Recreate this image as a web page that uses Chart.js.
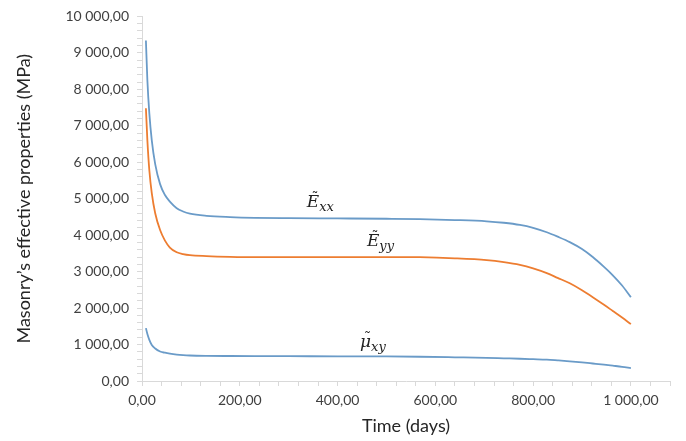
<!DOCTYPE html>
<html>
<head>
<meta charset="utf-8">
<script src="https://cdn.jsdelivr.net/npm/chart.js@4.4.1/dist/chart.umd.min.js"></script>
<style>
  html, body { margin: 0; padding: 0; background: #fff; }
  #wrap { width: 686px; height: 441px; }
</style>
</head>
<body>
<div id="wrap"><canvas id="chart" width="686" height="441"></canvas></div>
<script>
// Time (days)
const days = [8, 11, 15, 20, 27, 37, 47, 57, 71, 84, 98, 132, 180, 231, 300, 400, 500, 568, 640, 705, 740, 773, 800, 828, 850, 875, 900, 922, 945, 963, 982, 1000];

// Effective properties (MPa)
const exx = [9340, 8250, 7340, 6600, 5950, 5400, 5100, 4920, 4740, 4650, 4590, 4530, 4495, 4475, 4465, 4458, 4450, 4440, 4415, 4380, 4340, 4280, 4200, 4080, 3960, 3810, 3620, 3400, 3130, 2900, 2620, 2300];
const eyy = [7480, 6600, 5780, 5150, 4600, 4140, 3850, 3660, 3530, 3480, 3450, 3425, 3405, 3395, 3395, 3400, 3400, 3395, 3365, 3315, 3260, 3185, 3090, 2960, 2830, 2680, 2490, 2300, 2090, 1920, 1740, 1560];
const mxy = [1450, 1290, 1130, 990, 890, 810, 775, 750, 725, 710, 700, 690, 685, 682, 680, 678, 674, 665, 650, 635, 622, 610, 598, 585, 565, 540, 510, 480, 448, 420, 390, 356];

const xTicks = [0, 200, 400, 600, 800, 1000];
const yTicks = [0, 1000, 2000, 3000, 4000, 5000, 6000, 7000, 8000, 9000, 10000];

const BLUE = '#6a9bc8';
const ORANGE = '#ed7d31';
const FONT = 'Lato, "Open Sans", sans-serif';

// "10 000,00" style
function fmt(v) {
    const s = Math.round(v).toString().replace(/\B(?=(\d{3})+(?!\d))/g, ' ');
    return s + ',00';
}

function pts(ys) {
    return days.map(function(d, i) { return { x: d, y: ys[i] }; });
}

// curve labels drawn as math text: tilde over symbol, italic subscript
const curveLabels = [
    { sym: 'E', sub: 'xx', x: 337, y: 4770 },
    { sym: 'E', sub: 'yy', x: 460, y: 3700 },
    { sym: 'μ', sub: 'xy', x: 446, y: 930 }
];

const mathLabels = {
    id: 'mathLabels',
    afterDatasetsDraw(chart) {
        const ctx = chart.ctx;
        const xs = chart.scales.x, ys = chart.scales.y;
        ctx.save();
        ctx.fillStyle = '#222';
        ctx.textBaseline = 'alphabetic';
        curveLabels.forEach(function(l) {
            const px = xs.getPixelForValue(l.x);
            const py = ys.getPixelForValue(l.y);
            ctx.font = 'italic 17px "DejaVu Serif", serif';
            const w = ctx.measureText(l.sym).width;
            ctx.fillText(l.sym, px, py);
            // tilde above the symbol
            ctx.font = '14px "DejaVu Serif", serif';
            ctx.textAlign = 'center';
            ctx.fillText('\u02DC', px + w / 2 + 2, py - 4);
            ctx.textAlign = 'left';
            ctx.font = 'italic 13px "DejaVu Serif", serif';
            ctx.fillText(l.sub, px + w, py + 4);
        });
        ctx.restore();
    }
};

new Chart(document.getElementById('chart'), {
    type: 'line',
    data: {
        datasets: [
            { label: 'Exx', data: pts(exx), borderColor: BLUE },
            { label: 'Eyy', data: pts(eyy), borderColor: ORANGE },
            { label: 'mxy', data: pts(mxy), borderColor: BLUE }
        ]
    },
    options: {
        responsive: false,
        animation: false,
        layout: { padding: { top: 8, right: 16, left: 9, bottom: 0 } },
        elements: {
            point: { radius: 0 },
            line: { borderWidth: 1.8, cubicInterpolationMode: 'monotone', fill: false }
        },
        plugins: {
            legend: { display: false },
            tooltip: { enabled: false }
        },
        scales: {
            x: {
                type: 'linear',
                min: 0,
                max: 1080,
                border: { color: '#d9d9d9', width: 1 },
                grid: { drawOnChartArea: false, color: '#d9d9d9', tickLength: 5 },
                ticks: {
                    stepSize: 40,
                    autoSkip: false,
                    maxRotation: 0,
                    color: '#404040',
                    font: { family: FONT, size: 14 },
                    padding: 6,
                    callback: function(v) { return xTicks.includes(v) ? fmt(v) : ''; }
                },
                title: {
                    display: true,
                    text: 'Time (days)',
                    color: '#262626',
                    font: { family: FONT, size: 18 },
                    padding: { top: 0 }
                },
                afterFit: function(s) { s.height = 60; }
            },
            y: {
                min: 0,
                max: 10000,
                border: { color: '#d9d9d9', width: 1 },
                grid: { drawOnChartArea: false, color: '#d9d9d9', tickLength: 5 },
                ticks: {
                    stepSize: 200,
                    autoSkip: false,
                    color: '#404040',
                    font: { family: FONT, size: 14 },
                    padding: 8,
                    callback: function(v) { return yTicks.includes(v) ? fmt(v) : ''; }
                },
                title: {
                    display: true,
                    text: 'Masonry’s effective properties (MPa)',
                    color: '#262626',
                    font: { family: FONT, size: 18 },
                    padding: { bottom: 4 }
                },
                afterFit: function(s) { s.width = 133; }
            }
        }
    },
    plugins: [mathLabels]
});
</script>
</body>
</html>
